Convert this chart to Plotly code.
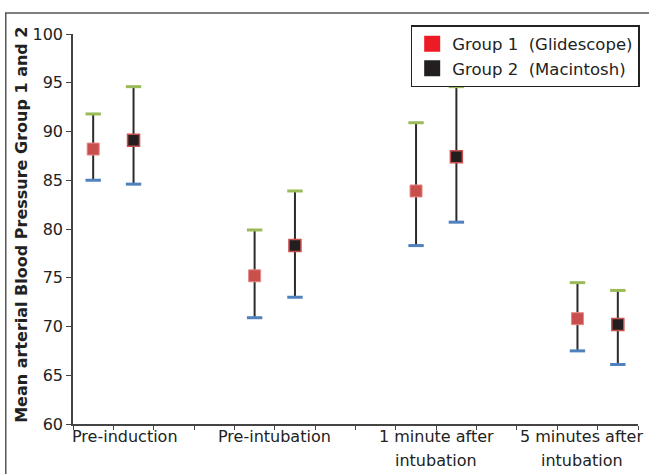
import plotly.graph_objects as go

# ---- data ----
categories = ["Pre-induction", "Pre-intubation", "1 minute after<br>intubation", "5 minutes after<br>intubation"]
category_label_x = [1.28, 5.0, 9.0, 12.6]

g1_x = [0.5, 4.5, 8.5, 12.5]
g1_mean = [88.2, 75.2, 83.9, 70.8]
g1_upper = [91.8, 79.9, 90.9, 74.5]
g1_lower = [85.0, 70.9, 78.3, 67.5]

g2_x = [1.5, 5.5, 9.5, 13.5]
g2_mean = [89.1, 78.3, 87.4, 70.2]
g2_upper = [94.6, 83.9, 94.6, 73.7]
g2_lower = [84.6, 73.0, 80.7, 66.1]

y_ticks = [60, 65, 70, 75, 80, 85, 90, 95, 100]
series_names = ["Group 1\u00a0\u00a0(Glidescope)", "Group 2\u00a0\u00a0(Macintosh)"]
y_title = "Mean arterial Blood Pressure Group 1 and 2"

FONT = "DejaVu Sans"
fig = go.Figure()

def add_group(xs, mean, up, lo, fill, edge, edgew):
    fig.add_trace(go.Scatter(
        x=xs, y=mean, mode="markers", showlegend=False,
        marker=dict(symbol="square", size=12, color=fill, line=dict(color=edge, width=edgew)),
        error_y=dict(type="data", symmetric=False,
                     array=[u - m for u, m in zip(up, mean)],
                     arrayminus=[m - l for m, l in zip(mean, lo)],
                     width=0, thickness=2, color="#2b2b2b"),
    ))
    fig.add_trace(go.Scatter(x=xs, y=up, mode="markers", showlegend=False,
                             marker=dict(symbol="line-ew", size=11, line=dict(color="#9bbb59", width=3))))
    fig.add_trace(go.Scatter(x=xs, y=lo, mode="markers", showlegend=False,
                             marker=dict(symbol="line-ew", size=11, line=dict(color="#4f81bd", width=3))))

add_group(g1_x, g1_mean, g1_upper, g1_lower, "#c94f4c", "#e58a88", 1)
add_group(g2_x, g2_mean, g2_upper, g2_lower, "#231f20", "#c9504d", 1.5)

# legend-only traces
fig.add_trace(go.Scatter(x=[None], y=[None], mode="markers", name=series_names[0],
                         marker=dict(symbol="square", size=16, color="#ed1c24")))
fig.add_trace(go.Scatter(x=[None], y=[None], mode="markers", name=series_names[1],
                         marker=dict(symbol="square", size=16, color="#231f20")))

# category labels under x axis
ann = []
for xc, lab in zip(category_label_x, categories):
    for i, line in enumerate(lab.split("<br>")):
        ann.append(dict(x=xc, y=-0.033 - i * 0.0615, xref="x", yref="paper",
                        text=line, showarrow=False, yanchor="middle", xanchor="center",
                        font=dict(family=FONT, size=16, color="#222")))
ann.append(dict(x=-0.0925, y=0.51, xref="paper", yref="paper", text="<b>" + y_title + "</b>",
                textangle=-90, showarrow=False, xanchor="center", yanchor="middle",
                font=dict(family=FONT, size=16, color="#222")))

fig.update_layout(
    width=649, height=474,
    margin=dict(l=72.5, r=9, t=34, b=50),
    paper_bgcolor="white", plot_bgcolor="white",
    font=dict(family=FONT, size=16, color="#222"),
    annotations=ann,
    legend=dict(x=1.003, y=1.023, xanchor="right", yanchor="top",
                bgcolor="white", bordercolor="#222", borderwidth=1.5,
                font=dict(family=FONT, size=16.5, color="#222"),
                itemwidth=30, tracegroupgap=0),
    shapes=[dict(type="rect", xref="paper", yref="paper",
                 x0=-0.119, x1=1.08, y0=-0.16, y1=1.054,
                 line=dict(color="#555", width=1.5), fillcolor="rgba(0,0,0,0)", layer="above")],
    showlegend=True,
)
fig.update_xaxes(range=[0, 14], showgrid=False, zeroline=False,
                 showline=True, linecolor="#444", linewidth=1.5,
                 tickvals=[], showticklabels=False,
                 minor=dict(tick0=0, dtick=1, ticks="outside", ticklen=4, tickcolor="#444", tickwidth=1.2))
fig.update_yaxes(range=[60, 100], tickvals=y_ticks, showgrid=False, zeroline=False,
                 showline=True, linecolor="#444", linewidth=1.5,
                 ticks="outside", ticklen=5, tickcolor="#444", tickwidth=1.2,
                 tickfont=dict(family=FONT, size=16, color="#222"))

fig.write_html("out.html", config={"displayModeBar": False},
               post_script="document.body.style.margin='0px';")
